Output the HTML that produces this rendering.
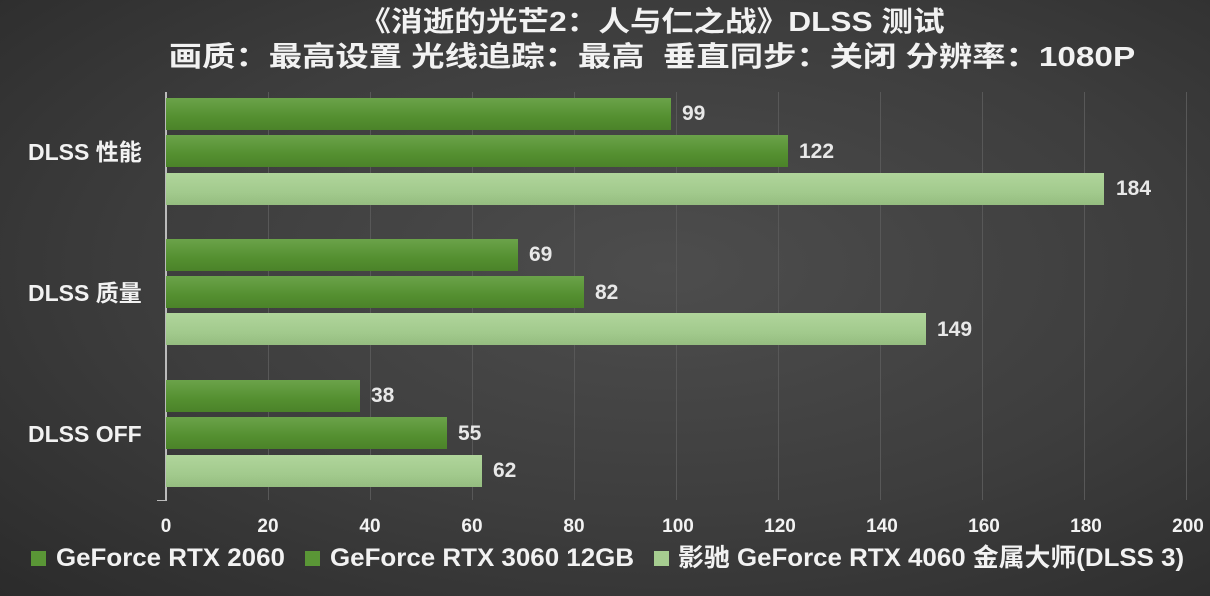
<!DOCTYPE html>
<html><head><meta charset="utf-8"><style>
html,body{margin:0;padding:0}
body{width:1210px;height:596px;overflow:hidden;background:radial-gradient(ellipse at 55% 45%,#4d4d4d 0%,#3d3d3d 55%,#2b2b2b 100%);font-family:"Liberation Sans","Noto Sans CJK SC",sans-serif;font-weight:bold;color:#f2f2f2;position:relative}
.t{position:absolute;left:652px;font-size:28px;line-height:34px;white-space:nowrap}
.a{position:absolute;font-size:19px;transform:translateX(-50%);top:516px}
.b{position:absolute;height:32px}
.d{background:linear-gradient(#6ba34a,#548f30 60%,#4b8329)}
.l{background:linear-gradient(#b0d59b,#a2ca8d 60%,#95bd80)}
.v{position:absolute;font-size:21px;color:#e8e8e8;line-height:24px}
.g{position:absolute;top:92px;height:408px;width:1px;background:#585858}
.c{position:absolute;left:28px;font-size:23px;line-height:28px;width:120px;text-align:left;white-space:nowrap}
.lg{position:absolute;top:543px;font-size:25px;line-height:30px;white-space:nowrap;transform-origin:0 50%}
.sq{position:absolute;width:15px;height:15px;top:551px}
</style></head><body>
<div class="t" style="top:5px;transform:translateX(-50%) scaleX(1.13)">《消逝的光芒2：人与仁之战》DLSS 测试</div>
<div class="t" style="top:40px;transform:translateX(-50%) scaleX(1.19)">画质：最高设置 光线追踪：最高&nbsp; 垂直同步：关闭 分辨率：1080P</div>
<div class="g" style="left:268px"></div><div class="g" style="left:370px"></div><div class="g" style="left:472px"></div><div class="g" style="left:574px"></div><div class="g" style="left:676px"></div><div class="g" style="left:778px"></div><div class="g" style="left:880px"></div><div class="g" style="left:982px"></div><div class="g" style="left:1084px"></div><div class="g" style="left:1186px"></div>
<div style="position:absolute;left:165px;top:92px;width:2px;height:409px;background:#bbb"></div>
<div style="position:absolute;left:157px;top:500px;width:9px;height:1px;background:#bbb"></div>
<div class="c" style="top:138px">DLSS 性能</div>
<div class="c" style="top:279px">DLSS 质量</div>
<div class="c" style="top:420px">DLSS OFF</div>

<div class="b d" style="left:166px;top:98px;width:505px"></div><div class="v" style="left:682px;top:102px">99</div>
<div class="b d" style="left:166px;top:135px;width:622px"></div><div class="v" style="left:799px;top:140px">122</div>
<div class="b l" style="left:166px;top:173px;width:938px"></div><div class="v" style="left:1116px;top:177px">184</div>
<div class="b d" style="left:166px;top:239px;width:352px"></div><div class="v" style="left:529px;top:243px">69</div>
<div class="b d" style="left:166px;top:276px;width:418px"></div><div class="v" style="left:595px;top:281px">82</div>
<div class="b l" style="left:166px;top:313px;width:760px"></div><div class="v" style="left:937px;top:318px">149</div>
<div class="b d" style="left:166px;top:380px;width:194px"></div><div class="v" style="left:371px;top:384px">38</div>
<div class="b d" style="left:166px;top:417px;width:281px"></div><div class="v" style="left:458px;top:422px">55</div>
<div class="b l" style="left:166px;top:455px;width:316px"></div><div class="v" style="left:493px;top:459px">62</div>

<div class="a" style="left:166px">0</div><div class="a" style="left:268px">20</div><div class="a" style="left:370px">40</div><div class="a" style="left:472px">60</div><div class="a" style="left:574px">80</div><div class="a" style="left:678px">100</div><div class="a" style="left:780px">120</div><div class="a" style="left:882px">140</div><div class="a" style="left:984px">160</div><div class="a" style="left:1086px">180</div><div class="a" style="left:1188px">200</div>

<div class="sq" style="left:31px;background:#5a9636"></div>
<div class="lg" style="left:56px;transform:scaleX(1.036)">GeForce RTX 2060</div>
<div class="sq" style="left:305px;background:#5a9636"></div>
<div class="lg" style="left:330px;transform:scaleX(1.037)">GeForce RTX 3060 12GB</div>
<div class="sq" style="left:654px;background:#a6cd90"></div>
<div class="lg" style="left:678px;transform:scaleX(1.035)">影驰 GeForce RTX 4060 金属大师(DLSS 3)</div>
</body></html>
